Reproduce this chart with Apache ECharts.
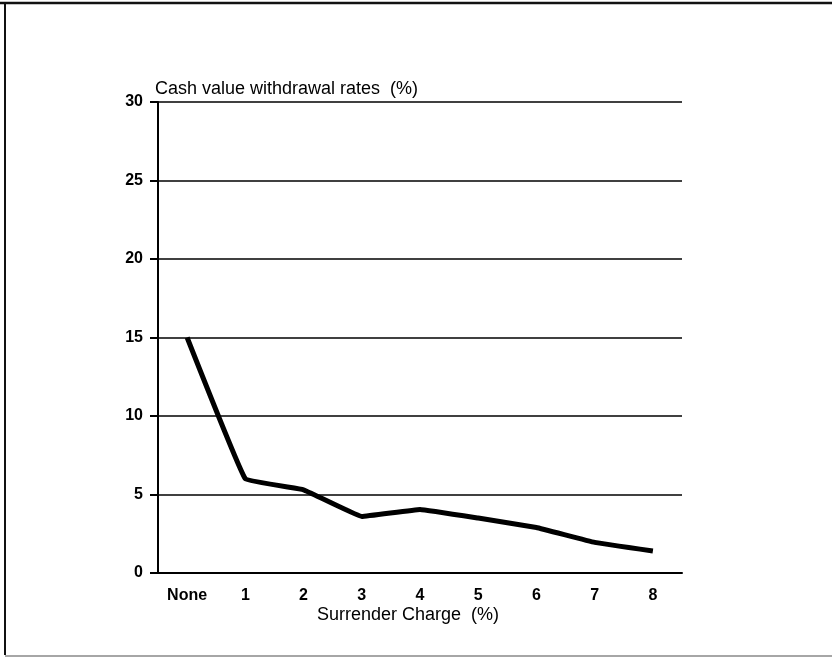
<!DOCTYPE html>
<html>
<head>
<meta charset="utf-8">
<style>
  html, body { margin: 0; padding: 0; background: #fff; }
  #chart { width: 832px; height: 658px; }
</style>
<script src="https://cdn.jsdelivr.net/npm/echarts@6/dist/echarts.min.js"></script>
</head>
<body>
<div id="chart"></div>
<script>
// Surrender charge levels and the matching cash value withdrawal rates
const categories = ['None', '1', '2', '3', '4', '5', '6', '7', '8'];
const withdrawalRates = [15.0, 6.0, 5.3, 3.6, 4.05, 3.5, 2.9, 1.95, 1.4];
const yTicks = [0, 5, 10, 15, 20, 25, 30];

const font = '"Liberation Sans", Arial, Helvetica, sans-serif';
const chart = echarts.init(document.getElementById('chart'), null, { renderer: 'canvas' });

chart.setOption({
  backgroundColor: '#fff',
  animation: false,
  grid: { left: 158, right: 150, top: 102, bottom: 85, containLabel: false },
  graphic: [
    // page frame: top, left and bottom rules
    { type: 'line', shape: { x1: 0, y1: 3, x2: 832, y2: 3 }, style: { stroke: '#111', lineWidth: 2.5 } },
    { type: 'line', shape: { x1: 5, y1: 3, x2: 5, y2: 655 }, style: { stroke: '#111', lineWidth: 2 } },
    { type: 'line', shape: { x1: 5, y1: 656, x2: 832, y2: 656 }, style: { stroke: '#888', lineWidth: 1.5 } },
    {
      type: 'text', left: 155, top: 80,
      style: { text: 'Cash value withdrawal rates  (%)', font: '18px ' + font, fill: '#000' }
    },
    {
      type: 'text', left: 317, top: 606,
      style: { text: 'Surrender Charge  (%)', font: '18px ' + font, fill: '#000' }
    }
  ],
  xAxis: {
    type: 'category',
    data: categories,
    boundaryGap: true,
    axisLine: { lineStyle: { color: '#000', width: 2 } },
    axisTick: { alignWithLabel: true, length: 8, lineStyle: { color: '#000', width: 2 } },
    axisLabel: { fontFamily: font, fontSize: 16, fontWeight: 'bold', color: '#000', margin: 15 },
    splitLine: { show: false }
  },
  yAxis: {
    type: 'value',
    min: yTicks[0],
    max: yTicks[yTicks.length - 1],
    interval: 5,
    axisLine: { show: true, lineStyle: { color: '#000', width: 2 } },
    axisTick: { show: true, inside: false, length: 8, lineStyle: { color: '#000', width: 2 } },
    axisLabel: { fontFamily: font, fontSize: 16, fontWeight: 'bold', color: '#000', margin: 15, padding: [3, 0, 0, 0] },
    splitLine: { show: true, lineStyle: { color: '#000', width: 1.5 } }
  },
  series: [{
    type: 'line',
    data: withdrawalRates,
    symbol: 'none',
    smooth: 0.06,
    lineStyle: { color: '#000', width: 5, join: 'round', cap: 'butt' }
  }]
});
</script>
</body>
</html>
